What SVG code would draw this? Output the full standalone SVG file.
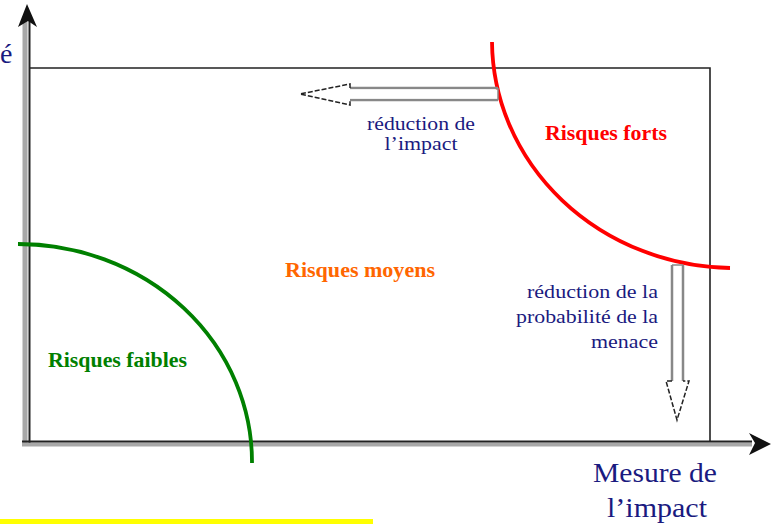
<svg xmlns="http://www.w3.org/2000/svg" width="772" height="524" viewBox="0 0 772 524">
<style>
text{font-family:'Liberation Serif','Times New Roman',serif}
.lbl{fill:#1a1a80}
.risk{font-weight:bold;font-size:21.5px}
</style>
<rect width="772" height="524" fill="#fff"/>
<g id="axes">
  <line x1="25" y1="20" x2="25" y2="444" stroke="#a8a8a8" stroke-width="5"/>
  <line x1="29.5" y1="20" x2="29.5" y2="443" stroke="#222" stroke-width="2"/>
  <polygon points="27,4 37,27 28,21 18,27" fill="#111"/>
  <line x1="22" y1="444.5" x2="752" y2="444.5" stroke="#a8a8a8" stroke-width="4"/>
  <line x1="22" y1="441.5" x2="752" y2="441.5" stroke="#222" stroke-width="2"/>
  <polygon points="771,444 749,433 755,443 749,455" fill="#111"/>
</g>
<g id="frame">
  <polyline points="30,68 710,68 710,441" fill="none" stroke="#222" stroke-width="1.6"/>
</g>
<g id="curves">
  <path d="M492,42 A243,228 0 0 0 730,268" fill="none" stroke="#ff0000" stroke-width="3.8"/>
  <path d="M18,244 A234,218 0 0 1 252,463" fill="none" stroke="#008000" stroke-width="3.8"/>
</g>
<g id="arrow-impact">
  <path d="M498,88 L350,88 M350,100 L498,100" stroke="#888" stroke-width="2.5" fill="none"/>
  <rect x="350" y="89.5" width="148" height="9" fill="#fff"/>
  <line x1="498" y1="88" x2="498" y2="100" stroke="#888" stroke-width="1.5"/>
  <polyline points="350,88 350,84 300,94 350,105 350,100" fill="#fff" stroke="#222" stroke-width="1.5" stroke-dasharray="5,2"/>
</g>
<g id="arrow-proba">
  <path d="M672,265 L672,381 M683,381 L683,265" stroke="#888" stroke-width="2.5" fill="none"/>
  <line x1="672" y1="265" x2="683" y2="265" stroke="#888" stroke-width="1.5"/>
  <polyline points="672,381 666,381 677,420 689,381 683,381" fill="#fff" stroke="#222" stroke-width="1.5" stroke-dasharray="5,2"/>
</g>
<g id="labels">
  <text class="lbl" x="0" y="63" font-family="Liberation Serif, serif" font-size="28">é</text>
  <text class="lbl" x="421" y="130" font-family="Liberation Serif, serif" font-size="18" text-anchor="middle" textLength="108" lengthAdjust="spacingAndGlyphs">réduction de</text>
  <text class="lbl" x="421" y="150" font-family="Liberation Serif, serif" font-size="18" text-anchor="middle" textLength="73" lengthAdjust="spacingAndGlyphs">l’impact</text>
  <text class="lbl" x="658" y="298" font-family="Liberation Serif, serif" font-size="18" text-anchor="end" textLength="131" lengthAdjust="spacingAndGlyphs">réduction de la</text>
  <text class="lbl" x="658" y="323" font-family="Liberation Serif, serif" font-size="18" text-anchor="end" textLength="142" lengthAdjust="spacingAndGlyphs">probabilité de la</text>
  <text class="lbl" x="658" y="348" font-family="Liberation Serif, serif" font-size="18" text-anchor="end" textLength="67" lengthAdjust="spacingAndGlyphs">menace</text>
  <text class="lbl" x="655" y="482" font-family="Liberation Serif, serif" font-size="28" text-anchor="middle" textLength="124" lengthAdjust="spacingAndGlyphs">Mesure de</text>
  <text class="lbl" x="657" y="517" font-family="Liberation Serif, serif" font-size="28" text-anchor="middle" textLength="100" lengthAdjust="spacingAndGlyphs">l’impact</text>
  <text class="risk" x="545" y="140" fill="#ff0000" font-family="Liberation Serif, serif" textLength="122" lengthAdjust="spacingAndGlyphs">Risques forts</text>
  <text class="risk" x="285" y="277" fill="#ff6600" font-family="Liberation Serif, serif" textLength="150" lengthAdjust="spacingAndGlyphs">Risques moyens</text>
  <text class="risk" x="48" y="367" fill="#008000" font-family="Liberation Serif, serif" textLength="139" lengthAdjust="spacingAndGlyphs">Risques faibles</text>
</g>
<rect x="0" y="519" width="373" height="5" fill="#ffff00"/>
</svg>
